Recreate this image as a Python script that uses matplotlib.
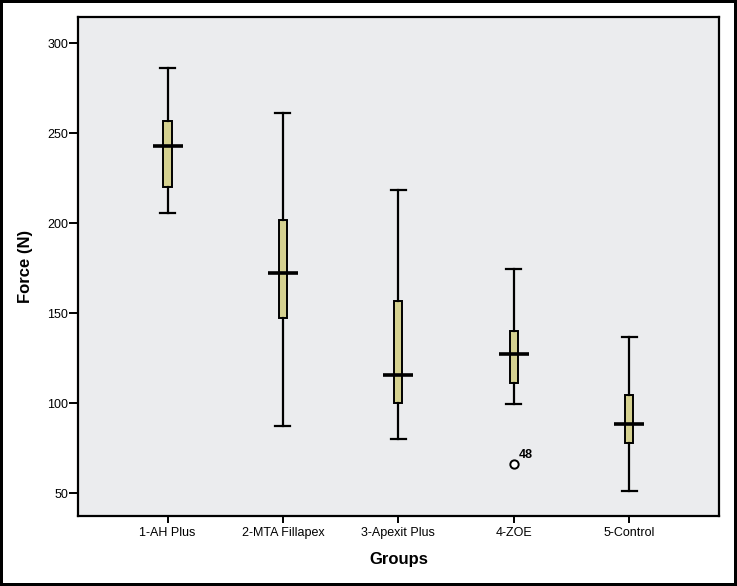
import matplotlib
matplotlib.use("Agg")
import matplotlib.pyplot as plt

groups = ["1-AH Plus", "2-MTA Fillapex", "3-Apexit Plus", "4-ZOE", "5-Control"]
whisker_low = [205.9, 87.5, 80.0, 99.4, 51.3]
q1 = [220.3, 147.2, 100.0, 111.1, 78.1]
median = [243.1, 172.6, 115.7, 127.4, 88.3]
q3 = [256.8, 201.8, 157.0, 140.2, 104.4]
whisker_high = [286.1, 261.4, 218.5, 174.4, 136.7]
outlier_group = 4
outlier_value = 66.3
outlier_label = "48"
yticks = [50, 100, 150, 200, 250, 300]

plt.rcParams['font.family'] = ['Liberation Sans', 'DejaVu Sans']

fig = plt.figure(figsize=(7.37, 5.86), dpi=100)
fig.patch.set_facecolor('white')
fig.patch.set_edgecolor('black')
fig.patch.set_linewidth(3)
ax = fig.add_axes([78/737, 70/586, 641/737, 499/586])
ax.set_facecolor('#EBECEE')

positions = list(range(1, len(groups) + 1))
stats = []
for i in range(len(groups)):
    stats.append(dict(whislo=whisker_low[i], q1=q1[i], med=median[i],
                      q3=q3[i], whishi=whisker_high[i], fliers=[]))

ax.bxp(stats, positions=positions, widths=0.07, capwidths=0.13,
       patch_artist=True, showfliers=False,
       boxprops=dict(facecolor='#D5D190', edgecolor='black', linewidth=1.4),
       whiskerprops=dict(color='black', linewidth=1.6),
       capprops=dict(color='black', linewidth=1.6),
       medianprops=dict(visible=False))
ax.hlines(median, [p - 0.13 for p in positions], [p + 0.13 for p in positions],
          colors='black', linewidth=2.6, zorder=5)

ax.plot([outlier_group], [outlier_value], marker='o', markersize=6,
        markerfacecolor='white', markeredgecolor='black', markeredgewidth=1.4,
        linestyle='none', zorder=6)
ax.annotate(outlier_label, (outlier_group, outlier_value), xytext=(4, 4),
            textcoords='offset points', fontsize=9, fontweight='bold')

ax.set_xlim(0.224, 5.78)
ax.set_ylim(37.4, 314.6)
ax.set_xticks(positions)
ax.set_xticklabels(groups, fontsize=9)
ax.set_yticks(yticks)
ax.set_yticklabels([str(t) for t in yticks], fontsize=9)
ax.tick_params(axis='y', length=6.5, width=1.4, pad=0.5)
ax.tick_params(axis='x', length=5, width=1.4, pad=3)
for s in ax.spines.values():
    s.set_linewidth(1.6)

ax.set_xlabel("Groups", fontsize=12, fontweight='bold', labelpad=9)
ax.set_ylabel("Force (N)", fontsize=12, fontweight='bold', labelpad=10)

fig.savefig("out.png", dpi=100)
